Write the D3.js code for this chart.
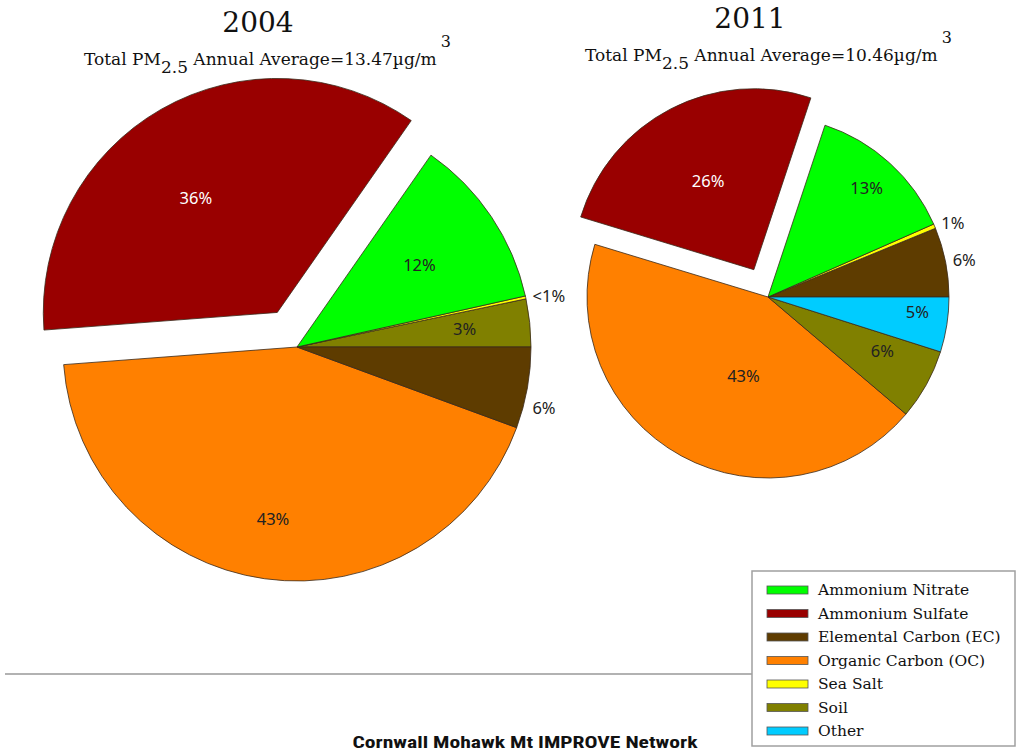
<!DOCTYPE html>
<html><head><meta charset="utf-8">
<script src="https://cdn.jsdelivr.net/npm/d3@7"></script>
<style>
body{margin:0;background:#fff;}
svg{display:block;}
</style></head>
<body>
<svg id="chart" width="1017" height="754"></svg>
<script>
// ---- data ----
const categories = ["Ammonium Nitrate","Ammonium Sulfate","Elemental Carbon (EC)","Organic Carbon (OC)","Sea Salt","Soil","Other"];
const categoryColors = ["#00ff00","#990000","#5e3c00","#ff8000","#ffff00","#808000","#00ccff"];

const years = ["2004","2011"];
const totals = ["13.47","10.46"];

const order2004 = ["Soil","Sea Salt","Ammonium Nitrate","Ammonium Sulfate","Organic Carbon (OC)","Elemental Carbon (EC)"];
const values2004 = [3.3, 0.2, 11.8, 35.9, 43.2, 5.6];
const labels2004 = ["3%","<1%","12%","36%","43%","6%"];

const order2011 = ["Elemental Carbon (EC)","Sea Salt","Ammonium Nitrate","Ammonium Sulfate","Organic Carbon (OC)","Soil","Other"];
const values2011 = [6.2, 0.4, 13.3, 25.4, 43.5, 6.3, 4.9];
const labels2011 = ["6%","1%","13%","26%","43%","6%","5%"];

const explodedCategory = "Ammonium Sulfate";
const footer = "Cornwall Mohawk Mt IMPROVE Network";

// ---- layout (styling only) ----
const pieLayouts = [
  {cx:297, cy:347, r:234, titleX:258, titleY:32, subX:84, subY:65,
   labelR:{"Soil":0.72,"Sea Salt":1.03,"Ammonium Nitrate":0.63,"Ammonium Sulfate":0.6,"Organic Carbon (OC)":0.745,"Elemental Carbon (EC)":1.04},
   labelShift:{"Ammonium Sulfate":-0.1,"Elemental Carbon (EC)":0.08},
   outside:{"Sea Salt":true,"Elemental Carbon (EC)":true}},
  {cx:768, cy:297, r:181, titleX:750, titleY:28, subX:585, subY:61,
   labelR:{"Elemental Carbon (EC)":1.04,"Sea Salt":1.04,"Ammonium Nitrate":0.81,"Ammonium Sulfate":0.55,"Organic Carbon (OC)":0.46,"Soil":0.7,"Other":0.83},
   labelShift:{"Organic Carbon (OC)":-0.2,"Soil":-0.06,"Other":-0.05},
   outside:{"Elemental Carbon (EC)":true,"Sea Salt":true}}
];
const whiteLabel = {"Ammonium Sulfate":true};

const color = d3.scaleOrdinal().domain(categories).range(categoryColors);
const svg = d3.select("#chart");

const serif = "'DejaVu Serif', 'Liberation Serif', serif";
const sans = "'Noto Sans', 'Open Sans', sans-serif";

const pieData = [
  {order:order2004, values:values2004, labels:labels2004},
  {order:order2011, values:values2011, labels:labels2011}
];

const pie = d3.pie().sort(null).value(d => d.v)
  .startAngle(Math.PI/2).endAngle(Math.PI/2 - 2*Math.PI);

pieData.forEach((pd, i) => {
  const L = pieLayouts[i];
  const rows = pd.order.map((c, k) => ({c, v: pd.values[k], label: pd.labels[k]}));
  const arcs = pie(rows);
  const arc = d3.arc().innerRadius(0).outerRadius(L.r);
  const g = svg.append("g").attr("transform", `translate(${L.cx},${L.cy})`);
  const explodeOff = 0.17 * L.r;

  arcs.forEach(a => {
    const mid = (a.startAngle + a.endAngle) / 2;
    const off = a.data.c === explodedCategory ? explodeOff : 0;
    const ox = Math.sin(mid) * off, oy = -Math.cos(mid) * off;
    g.append("path")
      .attr("d", arc(a))
      .attr("transform", `translate(${ox},${oy})`)
      .attr("fill", color(a.data.c))
      .attr("stroke", "#3a2a1a")
      .attr("stroke-width", 0.8)
      .attr("stroke-linejoin", "round");
    const la = mid + (L.labelShift[a.data.c] || 0);
    const lr = L.labelR[a.data.c] * L.r;
    const lx = ox + Math.sin(la) * lr, ly = oy - Math.cos(la) * lr;
    const outside = !!L.outside[a.data.c];
    g.append("text")
      .attr("x", lx).attr("y", ly)
      .attr("dy", "0.35em")
      .attr("text-anchor", outside ? "start" : "middle")
      .attr("font-family", sans)
      .attr("font-size", 16.5)
      .attr("fill", whiteLabel[a.data.c] ? "#ffffff" : "#222")
      .text(a.data.label);
  });

  // titles
  svg.append("text").attr("x", L.titleX).attr("y", L.titleY)
    .attr("text-anchor", "middle").attr("font-family", serif)
    .attr("font-size", 28).attr("fill", "#111").text(years[i]);
  const st = svg.append("text").attr("x", L.subX).attr("y", L.subY)
    .attr("font-family", serif).attr("font-size", 17).attr("fill", "#111");
  st.append("tspan").text("Total PM");
  st.append("tspan").attr("dy", 8).text("2.5");
  st.append("tspan").attr("dy", -8).text(" Annual Average=" + totals[i] + "\u00b5g/m");
  st.append("tspan").attr("dy", -18).attr("dx", 4).attr("font-size", 16).text("3");
});

// separator line
svg.append("line").attr("x1", 5).attr("x2", 752).attr("y1", 674).attr("y2", 674)
  .attr("stroke", "#999").attr("stroke-width", 1.5);

// legend
const lg = svg.append("g").attr("transform", "translate(752,571)");
lg.append("rect").attr("x", 0).attr("y", 0).attr("width", 263).attr("height", 175)
  .attr("fill", "#fff").attr("stroke", "#a0a0a0").attr("stroke-width", 1.5);
const lyScale = d3.scalePoint().domain(categories).range([19, 160]);
categories.forEach(c => {
  lg.append("rect").attr("x", 15).attr("y", lyScale(c) - 4).attr("width", 41).attr("height", 8)
    .attr("fill", color(c)).attr("stroke", "#555").attr("stroke-width", 0.8);
  lg.append("text").attr("x", 66).attr("y", lyScale(c)).attr("dy", "0.35em")
    .attr("font-family", serif).attr("font-size", 15.5).attr("fill", "#111").text(c);
});

// footer
svg.append("text").attr("x", 525).attr("y", 748).attr("text-anchor", "middle")
  .attr("font-family", "'Roboto Condensed', 'Roboto', sans-serif")
  .attr("font-weight", "bold").attr("font-size", 16.5).attr("fill", "#111")
  .attr("textLength", 345).attr("lengthAdjust", "spacingAndGlyphs")
  .text(footer);
</script>
</body></html>
